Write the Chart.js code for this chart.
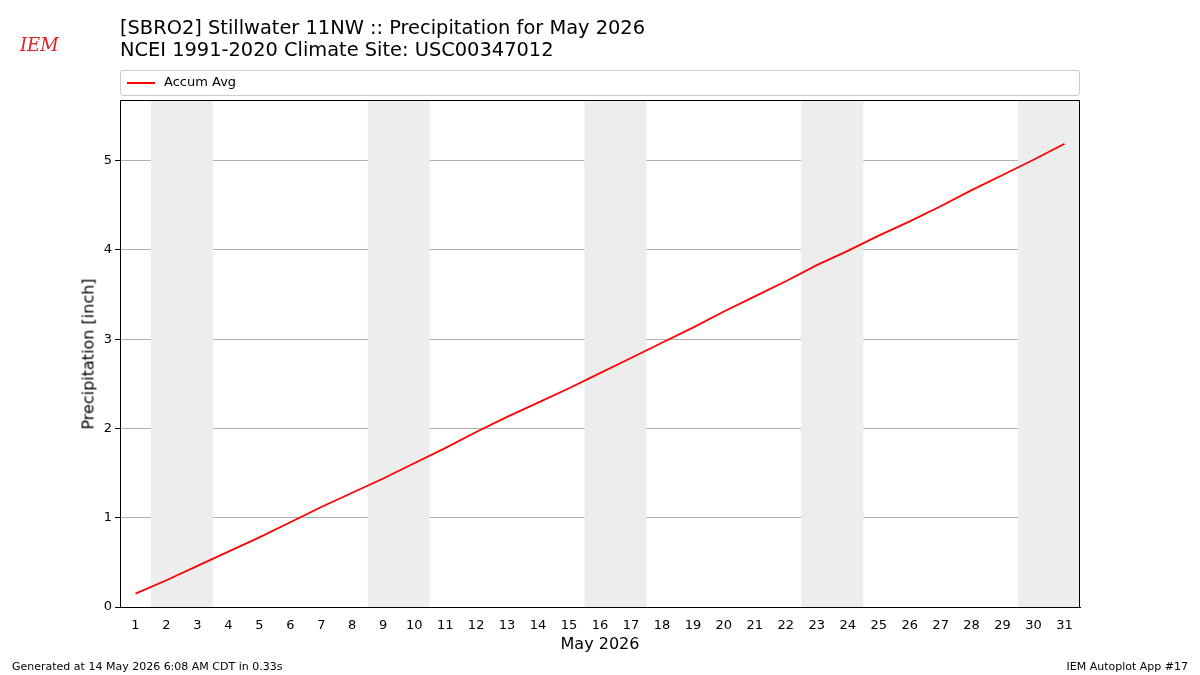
<!DOCTYPE html>
<html><head><meta charset="utf-8">
<script src="https://cdn.jsdelivr.net/npm/chart.js@4/dist/chart.umd.min.js"></script>
<style>
body{margin:0;background:#fff;font-family:"DejaVu Sans",sans-serif}
#wrap{position:relative;width:1200px;height:675px}
.t{position:absolute;color:#000;white-space:nowrap}
#legend{position:absolute;left:120px;top:70px;width:958px;height:24px;border:1px solid #ccc;border-radius:3px;font-size:13px}
</style></head><body>
<div id="wrap">
<canvas id="c" width="1200" height="675"></canvas>
<div class="t" style="left:120px;top:17px;font-size:19.4px;line-height:22px">[SBRO2] Stillwater 11NW :: Precipitation for May 2026<br>NCEI 1991-2020 Climate Site: USC00347012</div>
<div id="legend"><span style="position:absolute;left:6px;top:11px;width:28px;height:2px;background:#f00"></span><span style="position:absolute;left:43px;top:3px">Accum Avg</span></div>
<div class="t" style="left:600px;top:634px;font-size:16px;transform:translateX(-50%)">May 2026</div>
<div class="t" style="left:88px;top:354px;font-size:16px;transform:translate(-50%,-50%) rotate(-90deg)">Precipitation [inch]</div>
<div class="t" style="left:12px;top:660px;font-size:11px">Generated at 14 May 2026 6:08 AM CDT in 0.33s</div>
<div class="t" style="right:12px;top:660px;font-size:11px">IEM Autoplot App #17</div>
<div class="t" style="left:20px;top:34px;font-size:18px;font-style:italic;color:#d22;font-family:'DejaVu Serif',serif">IEM</div>
</div>
<script>
// ---------- DATA ----------
const days = Array.from({length: 31}, (_, i) => i + 1);
const accumAvg = [0.15,0.30,0.46,0.62,0.78,0.95,1.12,1.28,1.44,1.61,1.78,1.96,2.13,2.29,2.45,
  2.62,2.79,2.96,3.13,3.31,3.48,3.65,3.83,3.99,4.16,4.32,4.49,4.67,4.84,5.01,5.19];
const weekendStarts = [2, 9, 16, 23, 30];

// weekend shading + frame
const shade = {
  id: 'shade',
  beforeDatasetsDraw(chart) {
    const {ctx, chartArea: a, scales: {x}} = chart;
    ctx.save();
    ctx.fillStyle = '#ededed';
    weekendStarts.forEach(d => {
      const x0 = x.getPixelForValue(d - 0.5);
      const x1 = Math.min(x.getPixelForValue(d + 1.5), a.right);
      ctx.fillRect(x0, a.top, x1 - x0, a.bottom - a.top);
    });
    ctx.restore();
  },
  afterDraw(chart) {
    const {ctx, chartArea: a} = chart;
    ctx.save();
    ctx.strokeStyle = '#000'; ctx.lineWidth = 1;
    ctx.strokeRect(a.left + 0.5, a.top + 0.5, a.right - a.left - 1, a.bottom - a.top);
    ctx.restore();
  }
};

Chart.defaults.font.family = '"DejaVu Sans", sans-serif';
Chart.defaults.color = '#000';
new Chart(document.getElementById('c'), {
  type: 'line',
  data: {
    datasets: [{
      data: days.map((d, i) => ({x: d, y: accumAvg[i]})),
      borderColor: '#ff0000', borderWidth: 1.8, pointRadius: 0, tension: 0
    }]
  },
  options: {
    responsive: false, animation: false,
    layout: {padding: {top: 100, right: 120, left: 0, bottom: 0}},
    plugins: {legend: {display: false}, tooltip: {enabled: false}},
    scales: {
      x: {
        type: 'linear', min: 0.5, max: 31.5,
        afterFit: s => { s.height = 68; },
        afterBuildTicks: s => { s.ticks = days.map(v => ({value: v})); },
        ticks: {font: {size: 13}, autoSkip: false, maxRotation: 0, padding: 6, callback: v => v},
        grid: {display: false, drawTicks: true, tickLength: 5, tickColor: '#000'},
        border: {color: '#000'}
      },
      y: {
        min: 0, max: 5.68,
        afterFit: s => { s.width = 120; },
        afterBuildTicks: s => { s.ticks = [0,1,2,3,4,5].map(v => ({value: v})); },
        ticks: {font: {size: 13}, callback: v => v},
        grid: {color: '#b0b0b0', tickLength: 5, tickColor: '#000'},
        border: {color: '#000'}
      }
    }
  },
  plugins: [shade]
});
</script>
</body></html>
